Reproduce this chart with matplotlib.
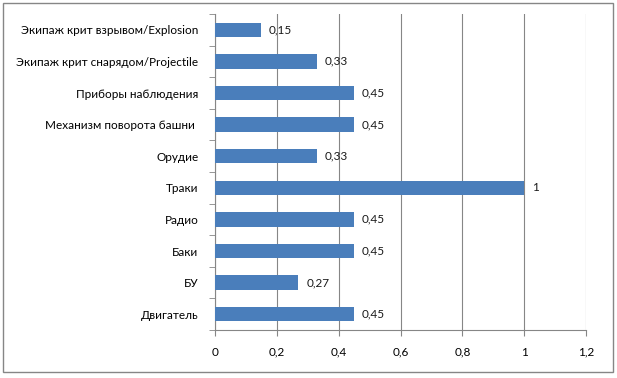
import matplotlib
matplotlib.use("Agg")
import matplotlib.pyplot as plt
from matplotlib.patches import Rectangle
import numpy as np

categories = ["Двигатель", "БУ", "Баки", "Радио", "Траки", "Орудие",
              "Механизм поворота башни ", "Приборы наблюдения",
              "Экипаж крит снарядом/Projectile", "Экипаж крит взрывом/Explosion"]
values = [0.45, 0.27, 0.45, 0.45, 1, 0.33, 0.45, 0.45, 0.33, 0.15]
xticks = [0, 0.2, 0.4, 0.6, 0.8, 1, 1.2]
xticklabels = ["0", "0,2", "0,4", "0,6", "0,8", "1", "1,2"]

plt.rcParams['font.family'] = ['Lato', 'DejaVu Sans']
fig = plt.figure(figsize=(6.17, 3.78), dpi=100)
fig.patch.set_facecolor("white")
fig.patches.append(Rectangle((3/617, 6/378), 610/617, 369/378, transform=fig.transFigure,
                             fill=False, edgecolor="#868686", linewidth=1.0))
ax = fig.add_axes([215/617, 1-330/378, 371/617, 316/378])

y = np.arange(len(categories))
ax.barh(y, values, height=0.45, color="#4a7ebb", zorder=3)
for yi, v in zip(y, values):
    lbl = f"{v:g}".replace(".", ",")
    ax.text(v + 0.025, yi, lbl, va="center", ha="left", fontsize=8.5, color="#1a1a1a", zorder=4)

ax.set_xlim(0, 1.2)
ax.set_ylim(-0.5, len(categories) - 0.5)
ax.set_xticks(xticks)
ax.set_xticklabels(xticklabels, fontsize=8.5)
ax.set_yticks(y)
ax.set_yticklabels(categories, fontsize=8.5)
ax.set_yticks(np.arange(-0.5, len(categories), 1), minor=True)
ax.tick_params(axis="y", which="major", length=0, pad=12)
ax.tick_params(axis="y", which="minor", length=4, color="#868686", direction="out")
ax.tick_params(axis="x", length=4, color="#868686", direction="out", pad=8)
ax.grid(axis="x", color="#868686", linewidth=0.8, zorder=0)
for s in ["top", "right"]:
    ax.spines[s].set_visible(False)
for s in ["left", "bottom"]:
    ax.spines[s].set_color("#868686")
    ax.spines[s].set_linewidth(0.8)

fig.savefig("out.png", dpi=100)
